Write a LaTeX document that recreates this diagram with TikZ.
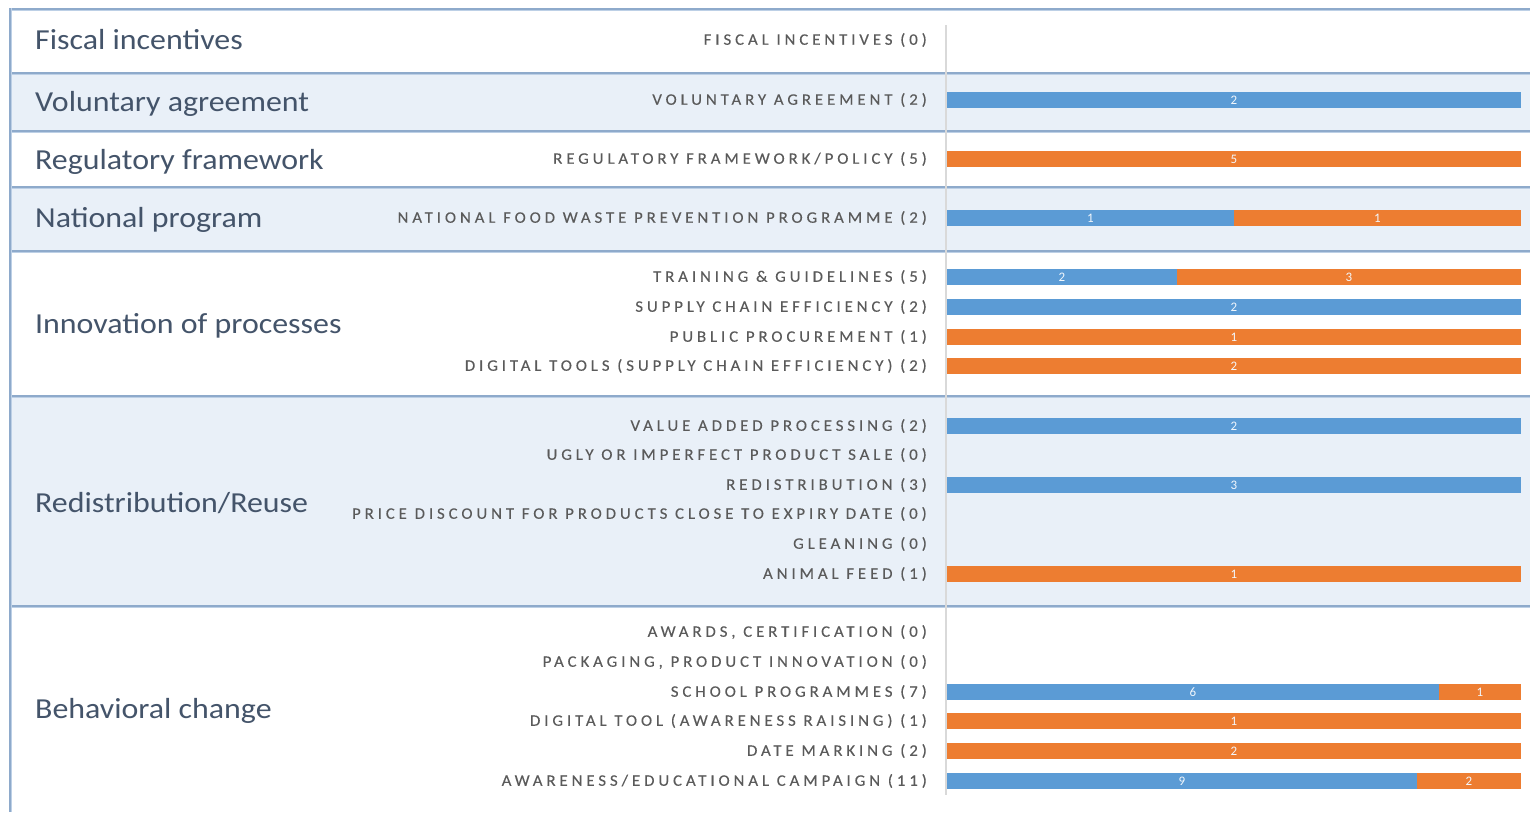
\documentclass[tikz,border=0pt]{standalone}
\usepackage{fontspec}
\setmainfont{Carlito}
\newfontfamily\itemfont[LetterSpace=24.5,FakeStretch=1.05,FakeBold=0.2]{Carlito}
\newfontfamily\catfont[FakeStretch=1.1]{Carlito}
\definecolor{bandblue}{HTML}{E9F0F8}
\definecolor{sepdark}{HTML}{8EAACB}
\definecolor{seplight}{HTML}{BDD0E6}
\definecolor{catcol}{HTML}{44546A}
\definecolor{itemcol}{HTML}{5A5A5A}
\definecolor{barblue}{HTML}{5B9BD5}
\definecolor{barorange}{HTML}{ED7D31}
\definecolor{axiscol}{HTML}{D9D9D9}
\newcommand{\barseg}[6]{%
  \fill[#4] (#2,#1-8) rectangle (#3,#1+8);
  \node[val] (#6) at ({(#2+#3)/2},#1) {#5};}
\begin{document}
\begin{tikzpicture}[x=1pt,y=-1pt,
  cat/.style={anchor=west, font=\catfont\fontsize{29}{32}\selectfont, text=catcol, inner sep=0pt},
  item/.style={anchor=east, font=\itemfont\fontsize{16}{18}\selectfont, text=itemcol, inner sep=0pt},
  val/.style={font=\fontsize{13}{14}\selectfont, text=white!92!barblue, inner sep=0pt},
  sep/.style={draw=seplight, line width=3pt},
  sepline/.style={draw=sepdark, line width=1.2pt}]
\useasboundingbox (0,0) rectangle (1530,812);
% bands
\fill[white] (0,0) rectangle (1530,812);
\fill[bandblue] (10,73) rectangle (1530,131);
\fill[bandblue] (10,187) rectangle (1530,251);
\fill[bandblue] (10,396) rectangle (1530,606);
% separators
\foreach \yy in {9,73,131,187,251,396,606}{
  \draw[sep] (10,\yy) -- (1530,\yy);
  \draw[sepline] (10,\yy) -- (1530,\yy);
}
\draw[sep] (10,8) -- (10,812);
\draw[sepline] (10,8) -- (10,812);
% axis
\draw[axiscol, line width=1.2pt] (946,25) -- (946,795);
% categories
\node[cat] (c1) at (35,40) {Fiscal incentives};
\node[cat] (c2) at (35,104) {Voluntary agreement};
\node[cat] (c3) at (35,162) {Regulatory framework};
\node[cat] (c4) at (35,220) {National program};
\node[cat] (c5) at (35,326) {Innovation of processes};
\node[cat] (c6) at (35,503) {Redistribution/Reuse};
\node[cat] (c7) at (35,711) {Behavioral change};
% items
\node[item] (i1) at (927,40) {FISCAL INCENTIVES (0)};
\node[item] (i2) at (927,100) {VOLUNTARY AGREEMENT (2)};
\node[item] (i3) at (927,159) {REGULATORY FRAMEWORK/POLICY (5)};
\node[item] (i4) at (927,218) {NATIONAL FOOD WASTE PREVENTION PROGRAMME (2)};
\node[item] (i5) at (927,277) {TRAINING \& GUIDELINES (5)};
\node[item] (i6) at (927,307) {SUPPLY CHAIN EFFICIENCY (2)};
\node[item] (i7) at (927,337) {PUBLIC PROCUREMENT (1)};
\node[item] (i8) at (927,366) {DIGITAL TOOLS (SUPPLY CHAIN EFFICIENCY) (2)};
\node[item] (i9) at (927,426) {VALUE ADDED PROCESSING (2)};
\node[item] (i10) at (927,455) {UGLY OR IMPERFECT PRODUCT SALE (0)};
\node[item] (i11) at (927,485) {REDISTRIBUTION (3)};
\node[item] (i12) at (927,514) {PRICE DISCOUNT FOR PRODUCTS CLOSE TO EXPIRY DATE (0)};
\node[item] (i13) at (927,544) {GLEANING (0)};
\node[item] (i14) at (927,574) {ANIMAL FEED (1)};
\node[item] (i15) at (927,632) {AWARDS, CERTIFICATION (0)};
\node[item] (i16) at (927,662) {PACKAGING, PRODUCT INNOVATION (0)};
\node[item] (i17) at (927,692) {SCHOOL PROGRAMMES (7)};
\node[item] (i18) at (927,721) {DIGITAL TOOL (AWARENESS RAISING) (1)};
\node[item] (i19) at (927,751) {DATE MARKING (2)};
\node[item] (i20) at (927,781) {AWARENESS/EDUCATIONAL CAMPAIGN (11)};
% bars
\barseg{100}{947}{1521}{barblue}{2}{b2}
\barseg{159}{947}{1521}{barorange}{5}{b3}
\barseg{218}{947}{1234}{barblue}{1}{b4a}
\barseg{218}{1234}{1521}{barorange}{1}{b4b}
\barseg{277}{947}{1176.6}{barblue}{2}{b5a}
\barseg{277}{1176.6}{1521}{barorange}{3}{b5b}
\barseg{307}{947}{1521}{barblue}{2}{b6}
\barseg{337}{947}{1521}{barorange}{1}{b7}
\barseg{366}{947}{1521}{barorange}{2}{b8}
\barseg{426}{947}{1521}{barblue}{2}{b9}
\barseg{485}{947}{1521}{barblue}{3}{b11}
\barseg{574}{947}{1521}{barorange}{1}{b14}
\barseg{692}{947}{1439}{barblue}{6}{b17a}
\barseg{692}{1439}{1521}{barorange}{1}{b17b}
\barseg{721}{947}{1521}{barorange}{1}{b18}
\barseg{751}{947}{1521}{barorange}{2}{b19}
\barseg{781}{947}{1416.6}{barblue}{9}{b20a}
\barseg{781}{1416.6}{1521}{barorange}{2}{b20b}
\end{tikzpicture}
\end{document}
